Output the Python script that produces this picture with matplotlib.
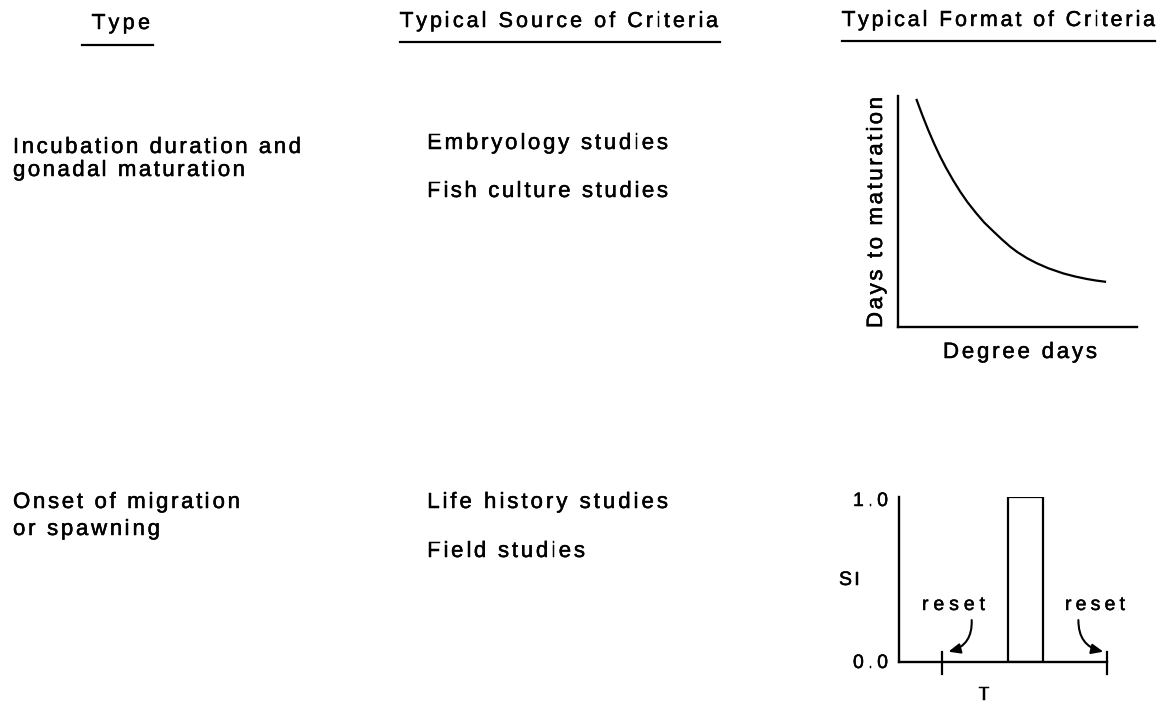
import matplotlib
matplotlib.use("Agg")
import matplotlib.pyplot as plt
import matplotlib.patheffects as pe
from matplotlib.font_manager import FontProperties, findfont, get_font
from matplotlib.lines import Line2D

W, H = 1161, 706
FAMILY = "Liberation Sans"
INK = [pe.withStroke(linewidth=0.35, foreground="black")]  # scanned print looks a bit heavier

# ---------------- data ----------------
# table text
headers = ["Type", "Typical Source of Criteria", "Typical Format of Criteria"]
types = [["Incubation duration and", "gonadal maturation"],
         ["Onset of migration", "or spawning"]]
sources = [["Embryology studies", "Fish culture studies"],
           ["Life history studies", "Field studies"]]

# panel 1: days to maturation vs degree days (schematic, arbitrary units)
degree_days = [7.7, 10.0, 12.5, 15.0, 17.5, 20.0, 23.1, 26.0, 29.0, 32.6, 36.0, 40.0, 43.5,
               46.9, 50.0, 54.0, 58.1, 63.0, 69.2, 74.0, 79.0, 83.0, 86.7]
days_to_mat = [98.3, 91.9, 85.4, 79.4, 73.9, 68.9, 63.3, 58.5, 54.0, 49.3, 45.2, 41.2, 37.8,
               34.7, 32.3, 29.7, 27.5, 25.3, 23.1, 21.8, 20.7, 20.0, 19.5]

# panel 2: SI over T, window of suitability and reset points
si_window = [52.4, 68.9]
si_high = 1.0
reset_T = [20.4, 100.0]

fig = plt.figure(figsize=(W / 100, H / 100), dpi=100)


def advances(s, size):
    font = get_font(findfont(FontProperties(family=FAMILY)))
    font.set_size(size, 100)
    return [font.load_char(ord(ch)).linearHoriAdvance / 65536 for ch in s]


def label(s, x0, x1, base, size):
    """Letter-spaced text spread from x0 to x1 (pixels), baseline at base."""
    adv = advances(s, size)
    track = (x1 - x0 - sum(adv)) / max(len(s) - 1, 1)
    x = x0
    for ch, a in zip(s, adv):
        fig.text(x / W, 1 - base / H, ch, fontsize=size, family=FAMILY,
                 ha="left", va="baseline", path_effects=INK)
        x += a + track


def label_v(s, y0, y1, base, size):
    """Same, rotated 90 deg, reading upward from y0 to y1."""
    adv = advances(s, size)
    track = (y0 - y1 - sum(adv)) / max(len(s) - 1, 1)
    y = y0
    for ch, a in zip(s, adv):
        fig.text(base / W, 1 - y / H, ch, fontsize=size, family=FAMILY, rotation=90,
                 rotation_mode="anchor", ha="left", va="baseline", path_effects=INK)
        y -= a + track


def hline(x0, x1, y, lw=1.6):
    fig.add_artist(Line2D([x0 / W, x1 / W], [1 - y / H, 1 - y / H], lw=lw, color="black"))


# ---------------- headers ----------------
label(headers[0], 92, 150, 29, 15.5)
label(headers[1], 400, 718, 27, 15.5)
label(headers[2], 842, 1155, 26, 15.5)
hline(82, 153, 45)
hline(400, 720, 42)
hline(842, 1155, 41)

# ---------------- left columns ----------------
label(types[0][0], 13, 301, 153, 16)
label(types[0][1], 13, 245, 176, 16)
label(sources[0][0], 427, 668, 149, 16)
label(sources[0][1], 427, 668, 197, 16)

label(types[1][0], 13, 240, 508, 16)
label(types[1][1], 13, 160, 535, 16)
label(sources[1][0], 427, 668, 508, 16)
label(sources[1][1], 427, 585, 557, 16)

# ---------------- panel 1 ----------------
ax1 = fig.add_axes([898.3 / W, 1 - 326.7 / H, 238.4 / W, 230.7 / H])
ax1.plot(degree_days, days_to_mat, color="black", lw=1.6)
ax1.set_xlim(0, 100)
ax1.set_ylim(0, 100)
ax1.set_xticks([])
ax1.set_yticks([])
for side in ["top", "right"]:
    ax1.spines[side].set_visible(False)
for side in ["left", "bottom"]:
    ax1.spines[side].set_linewidth(1.7)
ax1.patch.set_alpha(0)
label("Degree days", 943, 1097, 358, 16)
label_v("Days to maturation", 328, 97, 882, 16)

# ---------------- panel 2 ----------------
ax2 = fig.add_axes([899.3 / W, 1 - 662.3 / H, 208 / W, 165.6 / H])
ax2.bar((si_window[0] + si_window[1]) / 2, si_high, width=si_window[1] - si_window[0],
        fill=False, edgecolor="black", lw=1.6)
for t in reset_T:
    ax2.plot([t, t], [0.064, -0.071], color="black", lw=1.6, clip_on=False)
ax2.set_xlim(0, 100)
ax2.set_ylim(0, 1)
ax2.set_xticks([])
ax2.set_yticks([])
ax2.spines["top"].set_visible(False)
ax2.spines["right"].set_visible(False)
ax2.spines["left"].set_linewidth(1.7)
ax2.spines["bottom"].set_linewidth(1.7)
ax2.spines["bottom"].set_bounds(0, reset_T[1])
ax2.patch.set_alpha(0)

arrow = dict(arrowstyle="-|>,head_length=0.7,head_width=0.3", color="black", lw=1.5,
             shrinkA=0, shrinkB=0)
ax2.annotate("", xy=(reset_T[0] + 3.2, 0.064), xytext=(34.8, 0.255),
             arrowprops=dict(arrow, connectionstyle="arc3,rad=-0.4"), annotation_clip=False)
ax2.annotate("", xy=(reset_T[1] - 1.9, 0.064), xytext=(86.1, 0.255),
             arrowprops=dict(arrow, connectionstyle="arc3,rad=0.4"), annotation_clip=False)

label("1.0", 853, 888, 506, 14)
label("0.0", 853, 888, 668, 14)
label("SI", 839, 860, 585, 14)
label("reset", 922, 985, 610, 14)
label("reset", 1065, 1125, 610, 14)
fig.text(984 / W, 1 - 700 / H, "T", fontsize=14, family=FAMILY, ha="center", va="baseline",
         path_effects=INK)

fig.savefig("out.png", dpi=100)
